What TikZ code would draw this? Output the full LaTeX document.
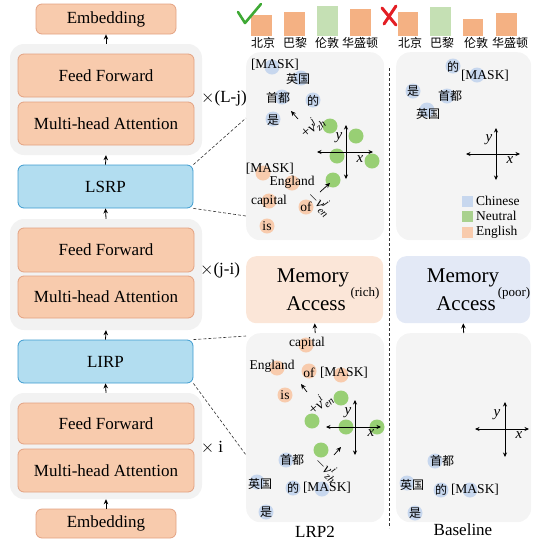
\documentclass[tikz,border=0pt]{standalone}
\usepackage{fontspec}
\setmainfont{Liberation Serif}
\newfontfamily\cjk{Noto Sans CJK SC}
\usetikzlibrary{arrows.meta}
\definecolor{boxO}{HTML}{F8CBAD}
\definecolor{boxOb}{HTML}{E3A282}
\definecolor{boxB}{HTML}{B2DDF0}
\definecolor{boxBb}{HTML}{3D9BCF}
\definecolor{grpC}{HTML}{F2F2F2}
\definecolor{panelC}{HTML}{F4F4F4}
\definecolor{memR}{HTML}{FBE6D8}
\definecolor{memP}{HTML}{E3E9F6}
\definecolor{dotC}{HTML}{C7D7EE}
\definecolor{dotE}{HTML}{F8CBAD}
\definecolor{dotN}{HTML}{98CF74}
\definecolor{barO}{HTML}{F4B183}
\definecolor{barG}{HTML}{C5E0B4}
\definecolor{legN}{HTML}{A9D18E}
\definecolor{tickG}{HTML}{3FA935}
\definecolor{crossR}{HTML}{E31E24}
\newcommand{\vlab}[3]{#1\textit{v}\makebox[0pt][l]{\raisebox{6pt}{\fontsize{10.5}{11}\selectfont\textit{#2}}}\raisebox{-3.5pt}{\fontsize{10.5}{11}\selectfont\textit{#3}}}
\tikzset{
  x=1pt, y=-1pt,
  obox/.style={draw=boxOb, fill=boxO, line width=0.8pt, rounded corners=6pt, minimum width=176pt, inner sep=0pt, font=\fontsize{17}{20}\selectfont},
  bbox/.style={draw=boxBb, fill=boxB, line width=0.8pt, rounded corners=6pt, minimum width=175pt, minimum height=43pt, inner sep=0pt, font=\fontsize{17}{20}\selectfont},
  grp/.style={fill=grpC, rounded corners=14pt, minimum width=192pt, inner sep=0pt},
  panel/.style={fill=panelC, rounded corners=14pt, anchor=north west, inner sep=0pt},
  arr/.style={-{Stealth[length=5pt,width=4.5pt]}, line width=0.8pt},
  conn/.style={dashed, line width=0.6pt, dash pattern=on 3pt off 2pt, black!80},
  wd/.style={inner sep=0pt, font=\fontsize{13.5}{16}\selectfont},
  zh/.style={inner sep=0pt, font=\cjk\fontsize{12}{14}\selectfont},
  lbl/.style={inner sep=0pt, font=\fontsize{17}{20}\selectfont},
  ax/.style={{Stealth[length=4.5pt,width=4pt]}-{Stealth[length=4.5pt,width=4pt]}, line width=0.6pt},
  axl/.style={inner sep=0pt, font=\fontsize{15}{17}\selectfont\itshape},
  vl/.style={inner sep=0pt, font=\fontsize{15}{17}\selectfont},
  varr/.style={-{Stealth[length=5pt,width=4.5pt]}, line width=0.7pt},
}
\begin{document}
\begin{tikzpicture}
\useasboundingbox (0,0) rectangle (533,542);
% ---------- left column ----------
\node[grp, minimum height=111pt] (g1) at (106,99.5) {};
\node[grp, minimum height=111pt] (g2) at (106,274.5) {};
\node[grp, minimum height=106pt] (g3) at (106,446) {};
\node[obox, minimum width=140pt, minimum height=30pt] (embT) at (106,19) {Embedding};
\node[obox, minimum height=43pt] (ff1) at (106,75.5) {Feed Forward};
\node[obox, minimum height=43pt] (mha1) at (106,123.5) {Multi-head Attention};
\node[bbox] (lsrp) at (105.5,186.5) {LSRP};
\node[obox, minimum height=44pt] (ff2) at (106,250) {Feed Forward};
\node[obox, minimum height=42pt] (mha2) at (106,297) {Multi-head Attention};
\node[bbox] (lirp) at (105.5,361.5) {LIRP};
\node[obox, minimum height=41pt] (ff3) at (106,423.5) {Feed Forward};
\node[obox, minimum height=43pt] (mha3) at (106,470.5) {Multi-head Attention};
\node[obox, minimum width=140pt, minimum height=29pt] (embB) at (106,523.5) {Embedding};
\draw[arr] (embB.north) -- (g3.south);
\draw[arr] (g3.north) -- (lirp.south);
\draw[arr] (lirp.north) -- (g2.south);
\draw[arr] (g2.north) -- (lsrp.south);
\draw[arr] (lsrp.north) -- (g1.south);
\draw[arr] (g1.north) -- (embT.south);
\node[lbl] (m1) at (224,98) {$\times$(L-j)};
\node[lbl] (m2) at (220,270) {$\times$(j-i)};
\node[lbl] (m3) at (212,448) {$\times$ i};
% ---------- panels ----------
\node[panel, minimum width=138pt, minimum height=188pt] (pTL) at (246,52) {};
\node[panel, minimum width=135pt, minimum height=188pt] (pTR) at (396,52) {};
\node[panel, fill=memR, minimum width=137pt, minimum height=67pt, rounded corners=10pt] (mR) at (246,256) {};
\node[panel, fill=memP, minimum width=134pt, minimum height=67pt, rounded corners=10pt] (mP) at (396,256) {};
\node[panel, minimum width=138pt, minimum height=189pt] (pBL) at (246,333) {};
\node[panel, minimum width=135pt, minimum height=189pt] (pBR) at (396,333) {};
\coordinate (dT) at (389,68);
\coordinate (dB) at (389,528);
\draw[conn] (dT) -- (dB);
\coordinate (c1) at (246,118);
\coordinate (c2) at (246,216);
\coordinate (c3) at (246,336);
\coordinate (c4) at (246,455);
\draw[conn] (lsrp.north east) -- (c1);
\draw[conn] (lsrp.south east) -- (c2);
\draw[conn] (lirp.north east) -- (c3);
\draw[conn] (lirp.south east) -- (c4);
\draw[arr] (pBL.north) -- (mR.south);
\draw[arr] (pBR.north) -- (mP.south);
% memory texts
\node[inner sep=0pt, font=\fontsize{21}{24}\selectfont] (mr1) at (313,278) {Memory};
\node[inner sep=0pt, font=\fontsize{13}{15}\selectfont] (mr2) at (365,293) {(rich)};
\node[inner sep=0pt, font=\fontsize{21}{24}\selectfont] (mr3) at (316,304) {Access};
\node[inner sep=0pt, font=\fontsize{21}{24}\selectfont] (mp1) at (463,278) {Memory};
\node[inner sep=0pt, font=\fontsize{13}{15}\selectfont] (mp2) at (514,293) {(poor)};
\node[inner sep=0pt, font=\fontsize{21}{24}\selectfont] (mp3) at (466,304) {Access};
% ---------- bars ----------
\fill[barO] (251,15) rectangle (272,36);
\fill[barO] (284,12) rectangle (305,36);
\fill[barG] (317,6) rectangle (338,36);
\fill[barO] (350,9) rectangle (371,36);
\fill[barO] (398,12) rectangle (418,36);
\fill[barG] (430,7) rectangle (451,36);
\fill[barO] (463,19) rectangle (483,36);
\fill[barO] (496,13) rectangle (517,36);
\node[zh] (b1) at (263,43) {北京};
\node[zh] (b2) at (295,43) {巴黎};
\node[zh] (b3) at (327,43) {伦敦};
\node[zh] (b4) at (360,43) {华盛顿};
\node[zh] (b5) at (410,43) {北京};
\node[zh] (b6) at (442,43) {巴黎};
\node[zh] (b7) at (476,43) {伦敦};
\node[zh] (b8) at (510,43) {华盛顿};
\draw[tickG, line width=2.6pt, line cap=round, line join=round] (238,12) -- (245,23) -- (261,4);
\draw[crossR, line width=3pt, line cap=round] (382,8) -- (396,25);
\draw[crossR, line width=3pt, line cap=round] (396,6) -- (384,24);
% ---------- top LRP2 panel ----------
\foreach \p in {(272,67),(301,78),(282,97),(313,100),(273,119)} \fill[dotC] \p circle (7.5);
\foreach \p in {(330,126),(356,136),(337,156),(372,161),(333,180)} \fill[dotN] \p circle (7.5);
\foreach \p in {(263,173),(292,183),(269,201),(306,207),(267,226)} \fill[dotE] \p circle (7.5);
\node[wd] (t1) at (275,65) {[MASK]};
\node[zh] (t2) at (298,79) {英国};
\node[zh] (t3) at (278,98) {首都};
\node[zh] (t4) at (313,101) {的};
\node[zh] (t5) at (273,120) {是};
\coordinate (va1) at (298,119);
\coordinate (vb1) at (291,111);
\draw[varr] (va1) -- (vb1);
\node[vl, rotate=40] (v1) at (312,127) {\vlab{+}{j}{zh}};
\draw[ax] (317,152) -- (373,152);
\draw[ax] (346,125) -- (346,179);
\node[axl] (y1) at (339,138) {y};
\node[axl] (x1) at (360,159) {x};
\node[wd] (e1) at (270,169) {[MASK]};
\node[wd] (e2) at (292,182) {England};
\node[wd] (e3) at (269,201) {capital};
\node[wd] (e4) at (306,207) {of};
\node[wd] (e5) at (267,226) {is};
\coordinate (va2) at (320,192);
\coordinate (vb2) at (330,183);
\draw[varr] (va2) -- (vb2);
\node[vl, rotate=-45] (v2) at (320,203) {\vlab{$-$}{j}{en}};
% ---------- top Baseline panel ----------
\foreach \p in {(453,66),(477,75),(413,91),(447,96),(427,110)} \fill[dotC] \p circle (7.5);
\node[zh] (s1) at (453,67) {的};
\node[wd] (s2) at (485,76) {[MASK]};
\node[zh] (s3) at (413,91) {是};
\node[zh] (s4) at (450,96) {首都};
\node[zh] (s5) at (428,114) {英国};
\draw[ax] (466,154) -- (520,154);
\draw[ax] (496,128) -- (496,180);
\node[axl] (y2) at (489,140) {y};
\node[axl] (x2) at (510,160) {x};
\fill[dotC] (462,195.5) rectangle (473,206.5);
\fill[legN] (462,210.5) rectangle (473,221.5);
\fill[dotE] (462,226.5) rectangle (473,237.5);
\node[wd, anchor=west] (l1) at (476,201) {Chinese};
\node[wd, anchor=west] (l2) at (476,216) {Neutral};
\node[wd, anchor=west] (l3) at (476,232) {English};
% ---------- bottom LRP2 panel ----------
\foreach \p in {(306,345),(277,368),(309,371),(341,375),(285,395)} \fill[dotE] \p circle (7.5);
\foreach \p in {(341,398),(312,421),(346,427),(377,427),(321,450)} \fill[dotN] \p circle (7.5);
\foreach \p in {(286,460),(257,482),(293,488),(322,489),(266,512)} \fill[dotC] \p circle (7.5);
\node[wd] (u1) at (307,343) {capital};
\node[wd] (u2) at (272,366) {England};
\node[wd] (u3) at (309,373) {of};
\node[wd] (u4) at (344,373) {[MASK]};
\node[wd] (u5) at (285,395) {is};
\coordinate (va3) at (307,392);
\coordinate (vb3) at (301,384);
\draw[varr] (va3) -- (vb3);
\node[vl, rotate=40] (v3) at (320,404) {\vlab{+}{i}{en}};
\draw[ax] (326,427) -- (381,427);
\draw[ax] (355,400) -- (355,455);
\node[axl] (y3) at (348,413) {y};
\node[axl] (x3) at (371,433) {x};
\coordinate (va4) at (334,455);
\coordinate (vb4) at (341,447);
\draw[varr] (va4) -- (vb4);
\node[vl, rotate=-45] (v4) at (327,469) {\vlab{$-$}{i}{zh}};
\node[zh] (w1) at (292,460) {首都};
\node[zh] (w2) at (260,484) {英国};
\node[zh] (w3) at (293,488) {的};
\node[wd] (w4) at (327,488) {[MASK]};
\node[zh] (w5) at (266,512) {是};
\node[lbl] (cap1) at (315,532) {LRP2};
% ---------- bottom Baseline panel ----------
\foreach \p in {(435,461),(407,483),(441,490),(470,490),(415,513)} \fill[dotC] \p circle (7.5);
\draw[ax] (475,429) -- (529,429);
\draw[ax] (505,402) -- (505,457);
\node[axl] (y4) at (497,415) {y};
\node[axl] (x4) at (519,435) {x};
\node[zh] (z1) at (442,461) {首都};
\node[zh] (z2) at (412,485) {英国};
\node[zh] (z3) at (441,490) {的};
\node[wd] (z4) at (475,490) {[MASK]};
\node[zh] (z5) at (415,513) {是};
\node[lbl] (cap2) at (463,530) {Baseline};
\end{tikzpicture}
\end{document}
